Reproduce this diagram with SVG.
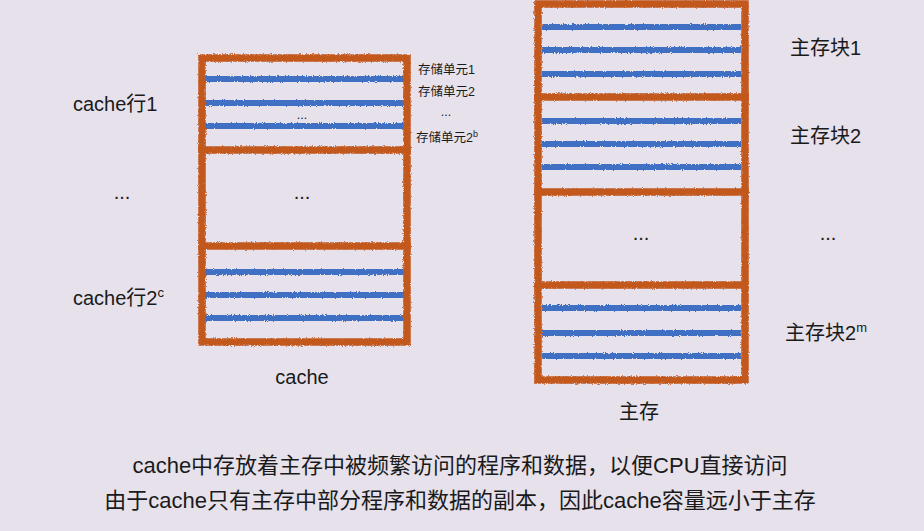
<svg xmlns="http://www.w3.org/2000/svg" width="924" height="531" viewBox="0 0 924 531">
<style>
.t{font-family:"Liberation Sans","Noto Sans CJK SC",sans-serif;fill:#1a1a1a}
.lb{font-size:20px}
.sm{font-size:12.5px}
.bt{font-size:22px}
.o{fill:none;stroke:#c2581f;stroke-width:7.5;stroke-linecap:square}
.b{fill:none;stroke:#4170c4;stroke-width:6}
</style>
<defs>
<filter id="crayon" x="-5%" y="-5%" width="110%" height="110%">
<feTurbulence type="fractalNoise" baseFrequency="0.9" numOctaves="2" seed="3" result="n"/>
<feDisplacementMap in="SourceGraphic" in2="n" scale="3" xChannelSelector="R" yChannelSelector="G"/>
</filter>
</defs>
<rect width="924" height="531" fill="#e6e1eb"/>

<g id="cache">
<g filter="url(#crayon)">
<g class="b">
<line x1="205" y1="79" x2="404" y2="79"/>
<line x1="205" y1="103" x2="404" y2="103"/>
<line x1="205" y1="126" x2="404" y2="126"/>
<line x1="205" y1="272" x2="404" y2="272"/>
<line x1="205" y1="295" x2="404" y2="295"/>
<line x1="205" y1="318" x2="404" y2="318"/>
</g>
<g class="o">
<rect x="202" y="58" width="205" height="284"/>
<line x1="202" y1="150" x2="407" y2="150"/>
<line x1="202" y1="246" x2="407" y2="246"/>
</g>
</g>
<text class="t sm" x="302" y="119" text-anchor="middle">...</text>
<text class="t lb" x="302" y="199" text-anchor="middle">...</text>
<text class="t lb" x="302" y="384" text-anchor="middle">cache</text>
</g>

<g id="cache-labels">
<text class="t lb" x="73" y="111">cache行1</text>
<text class="t lb" x="122" y="199" text-anchor="middle">...</text>
<text class="t lb" x="73" y="305">cache行2<tspan font-size="13" dy="-8">c</tspan></text>
</g>

<g id="cell-labels">
<text class="t sm" x="418" y="74">存储单元1</text>
<text class="t sm" x="418" y="96">存储单元2</text>
<text class="t sm" x="446" y="116" text-anchor="middle">...</text>
<text class="t sm" x="416" y="142">存储单元2<tspan font-size="9" dy="-5">b</tspan></text>
</g>

<g id="memory">
<g filter="url(#crayon)">
<g class="b">
<line x1="542" y1="27" x2="741" y2="27"/>
<line x1="542" y1="50" x2="741" y2="50"/>
<line x1="542" y1="74" x2="741" y2="74"/>
<line x1="542" y1="121" x2="741" y2="121"/>
<line x1="542" y1="144" x2="741" y2="144"/>
<line x1="542" y1="167" x2="741" y2="167"/>
<line x1="542" y1="308" x2="741" y2="308"/>
<line x1="542" y1="333" x2="741" y2="333"/>
<line x1="542" y1="356" x2="741" y2="356"/>
</g>
<g class="o">
<rect x="538" y="4" width="207" height="376"/>
<line x1="538" y1="97" x2="745" y2="97"/>
<line x1="538" y1="192" x2="745" y2="192"/>
<line x1="538" y1="285" x2="745" y2="285"/>
</g>
</g>
<text class="t lb" x="641" y="240" text-anchor="middle">...</text>
<text class="t lb" x="639" y="419" text-anchor="middle">主存</text>
</g>

<g id="memory-labels">
<text class="t lb" x="790" y="55">主存块1</text>
<text class="t lb" x="790" y="143">主存块2</text>
<text class="t lb" x="828" y="240" text-anchor="middle">...</text>
<text class="t lb" x="785" y="340">主存块2<tspan font-size="13" dy="-8">m</tspan></text>
</g>

<g id="caption">
<text class="t bt" x="460" y="473" text-anchor="middle">cache中存放着主存中被频繁访问的程序和数据，以便CPU直接访问</text>
<text class="t bt" x="460" y="508" text-anchor="middle">由于cache只有主存中部分程序和数据的副本，因此cache容量远小于主存</text>
</g>
</svg>
